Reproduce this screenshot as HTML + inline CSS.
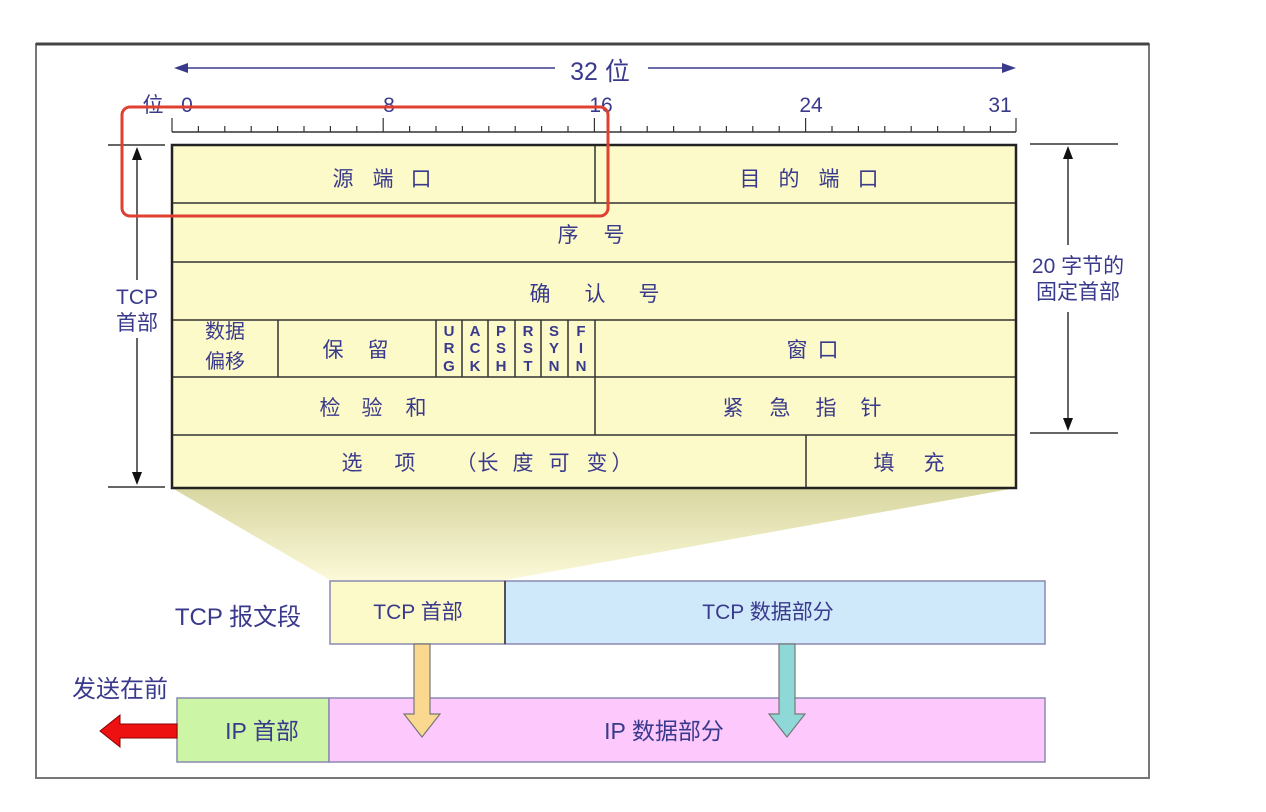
<!DOCTYPE html>
<html><head><meta charset="utf-8"><style>
html,body{margin:0;padding:0;background:#fff;}
svg{display:block;}
text{font-family:"Liberation Sans","Noto Sans CJK SC",sans-serif;fill:#3a3a8c;}
</style></head><body>
<svg width="1266" height="812" viewBox="0 0 1266 812" xmlns="http://www.w3.org/2000/svg">
<defs>
<linearGradient id="sh" x1="0" y1="0" x2="0" y2="1">
<stop offset="0" stop-color="#d8d6a0"/><stop offset="1" stop-color="#fbf9d8"/>
</linearGradient>
</defs>
<rect x="36" y="44" width="1113" height="734" fill="#fff" stroke="#777" stroke-width="2"/>
<line x1="36" y1="44" x2="1149" y2="44" stroke="#444" stroke-width="3"/>

<line x1="180" y1="68" x2="555" y2="68" stroke="#3a3a8c" stroke-width="1.5"/>
<line x1="648" y1="68" x2="1008" y2="68" stroke="#3a3a8c" stroke-width="1.5"/>
<polygon points="174,68 188,63 188,73" fill="#3a3a8c"/>
<polygon points="1016,68 1002,63 1002,73" fill="#3a3a8c"/>
<text x="600" y="80" font-size="25" text-anchor="middle">32 位</text>

<text x="153" y="112" font-size="21" text-anchor="middle">位</text>
<text x="187" y="112" font-size="21" text-anchor="middle">0</text>
<text x="389" y="112" font-size="21" text-anchor="middle">8</text>
<text x="601" y="112" font-size="21" text-anchor="middle">16</text>
<text x="811" y="112" font-size="21" text-anchor="middle">24</text>
<text x="1000" y="112" font-size="21" text-anchor="middle">31</text>
<line x1="172" y1="132" x2="1016" y2="132" stroke="#333" stroke-width="1.5"/>
<g stroke="#333" stroke-width="1.2">
<line x1="172" y1="118" x2="172" y2="132"/><line x1="198.4" y1="126" x2="198.4" y2="132"/><line x1="224.8" y1="126" x2="224.8" y2="132"/><line x1="251.2" y1="126" x2="251.2" y2="132"/><line x1="277.6" y1="126" x2="277.6" y2="132"/><line x1="304" y1="126" x2="304" y2="132"/><line x1="330.4" y1="126" x2="330.4" y2="132"/><line x1="356.8" y1="126" x2="356.8" y2="132"/>
<line x1="383.2" y1="118" x2="383.2" y2="132"/><line x1="409.6" y1="126" x2="409.6" y2="132"/><line x1="436" y1="126" x2="436" y2="132"/><line x1="462.4" y1="126" x2="462.4" y2="132"/><line x1="488.8" y1="126" x2="488.8" y2="132"/><line x1="515.2" y1="126" x2="515.2" y2="132"/><line x1="541.6" y1="126" x2="541.6" y2="132"/><line x1="568" y1="126" x2="568" y2="132"/>
<line x1="594.4" y1="118" x2="594.4" y2="132"/><line x1="620.8" y1="126" x2="620.8" y2="132"/><line x1="647.2" y1="126" x2="647.2" y2="132"/><line x1="673.6" y1="126" x2="673.6" y2="132"/><line x1="700" y1="126" x2="700" y2="132"/><line x1="726.4" y1="126" x2="726.4" y2="132"/><line x1="752.8" y1="126" x2="752.8" y2="132"/><line x1="779.2" y1="126" x2="779.2" y2="132"/>
<line x1="805.6" y1="118" x2="805.6" y2="132"/><line x1="832" y1="126" x2="832" y2="132"/><line x1="858.4" y1="126" x2="858.4" y2="132"/><line x1="884.8" y1="126" x2="884.8" y2="132"/><line x1="911.2" y1="126" x2="911.2" y2="132"/><line x1="937.6" y1="126" x2="937.6" y2="132"/><line x1="964" y1="126" x2="964" y2="132"/><line x1="990.4" y1="126" x2="990.4" y2="132"/>
<line x1="1016" y1="118" x2="1016" y2="132"/>
</g>

<polygon points="172,488 1016,488 505,580 330,580" fill="url(#sh)"/>

<rect x="172" y="145" width="844" height="343" fill="#fcfac8"/>
<g stroke="#333" stroke-width="1.5">
<line x1="172" y1="203" x2="1016" y2="203"/>
<line x1="172" y1="262" x2="1016" y2="262"/>
<line x1="172" y1="320" x2="1016" y2="320"/>
<line x1="172" y1="377" x2="1016" y2="377"/>
<line x1="172" y1="435" x2="1016" y2="435"/>
<line x1="595" y1="145" x2="595" y2="203"/>
<line x1="278" y1="320" x2="278" y2="377"/>
<line x1="436" y1="320" x2="436" y2="377"/>
<line x1="462" y1="320" x2="462" y2="377"/>
<line x1="488" y1="320" x2="488" y2="377"/>
<line x1="515" y1="320" x2="515" y2="377"/>
<line x1="541" y1="320" x2="541" y2="377"/>
<line x1="568" y1="320" x2="568" y2="377"/>
<line x1="595" y1="320" x2="595" y2="435"/>
<line x1="806" y1="435" x2="806" y2="488"/>
</g>
<rect x="172" y="145" width="844" height="343" fill="none" stroke="#222" stroke-width="2.5"/>

<g font-size="21" text-anchor="middle">
<text x="343 383 421" y="186">源端口</text>
<text x="750 789 829 868" y="186">目的端口</text>
<text x="568 614" y="242">序号</text>
<text x="540 595 649" y="301">确认号</text>
<text x="333 378" y="357">保留</text>
<text x="797 828" y="357">窗口</text>
<text x="330 372 416" y="415">检验和</text>
<text x="733 780 826 871" y="415">紧急指针</text>
<text x="352 405 466 488 523 559 597 622" y="470">选项（长度可变）</text>
<text x="884 934" y="470">填充</text>
</g>
<text x="225" y="338" font-size="20" text-anchor="middle">数据</text>
<text x="225" y="368" font-size="20" text-anchor="middle">偏移</text>
<g font-size="15" font-weight="bold" text-anchor="middle">
<text x="449" y="336">U</text><text x="449" y="353">R</text><text x="449" y="371">G</text>
<text x="475" y="336">A</text><text x="475" y="353">C</text><text x="475" y="371">K</text>
<text x="501" y="336">P</text><text x="501" y="353">S</text><text x="501" y="371">H</text>
<text x="528" y="336">R</text><text x="528" y="353">S</text><text x="528" y="371">T</text>
<text x="554" y="336">S</text><text x="554" y="353">Y</text><text x="554" y="371">N</text>
<text x="581" y="336">F</text><text x="581" y="353">I</text><text x="581" y="371">N</text>
</g>

<g stroke="#333" stroke-width="1.5">
<line x1="108" y1="145" x2="165" y2="145"/>
<line x1="108" y1="487" x2="165" y2="487"/>
<line x1="137" y1="156" x2="137" y2="280"/>
<line x1="137" y1="338" x2="137" y2="476"/>
</g>
<polygon points="137,147 132,160 142,160" fill="#111"/>
<polygon points="137,485 132,472 142,472" fill="#111"/>
<text x="137" y="304" font-size="21" text-anchor="middle">TCP</text>
<text x="137" y="330" font-size="21" text-anchor="middle">首部</text>

<g stroke="#333" stroke-width="1.5">
<line x1="1030" y1="144" x2="1118" y2="144"/>
<line x1="1030" y1="433" x2="1118" y2="433"/>
<line x1="1068" y1="155" x2="1068" y2="245"/>
<line x1="1068" y1="312" x2="1068" y2="422"/>
</g>
<polygon points="1068,146 1063,159 1073,159" fill="#111"/>
<polygon points="1068,431 1063,418 1073,418" fill="#111"/>
<text x="1078" y="273" font-size="21" text-anchor="middle">20 字节的</text>
<text x="1078" y="299" font-size="21" text-anchor="middle">固定首部</text>

<rect x="122" y="107" width="486" height="109" rx="8" fill="none" stroke="#e04030" stroke-width="3"/>

<text x="238" y="625" font-size="24" text-anchor="middle">TCP 报文段</text>
<rect x="330" y="581" width="175" height="63" fill="#fcfac8" stroke="#8a8ab0" stroke-width="1.5"/>
<rect x="505" y="581" width="540" height="63" fill="#cfe9fb" stroke="#8a8ab0" stroke-width="1.5"/>
<line x1="505" y1="581" x2="505" y2="644" stroke="#333" stroke-width="1.5"/>
<text x="418" y="619" font-size="21" text-anchor="middle">TCP 首部</text>
<text x="768" y="619" font-size="21" text-anchor="middle">TCP 数据部分</text>

<text x="120" y="697" font-size="24" text-anchor="middle">发送在前</text>
<rect x="177" y="698" width="152" height="64" fill="#ccf5a6" stroke="#8a8ab0" stroke-width="1.5"/>
<rect x="329" y="698" width="716" height="64" fill="#fdc8fc" stroke="#8a8ab0" stroke-width="1.5"/>
<text x="262" y="739" font-size="23" text-anchor="middle">IP 首部</text>
<text x="664" y="739" font-size="23" text-anchor="middle">IP 数据部分</text>

<polygon points="414,644 430,644 430,714 440,714 422,737 404,714 414,714" fill="#fbd890" stroke="#777" stroke-width="1.2"/>
<polygon points="779,644 795,644 795,714 805,714 787,737 769,714 779,714" fill="#8fd8d8" stroke="#777" stroke-width="1.2"/>

<polygon points="177,724 120,724 120,715 100,731 120,747 120,738 177,738" fill="#ee1111" stroke="#880000" stroke-width="1"/>
</svg>
</body></html>
